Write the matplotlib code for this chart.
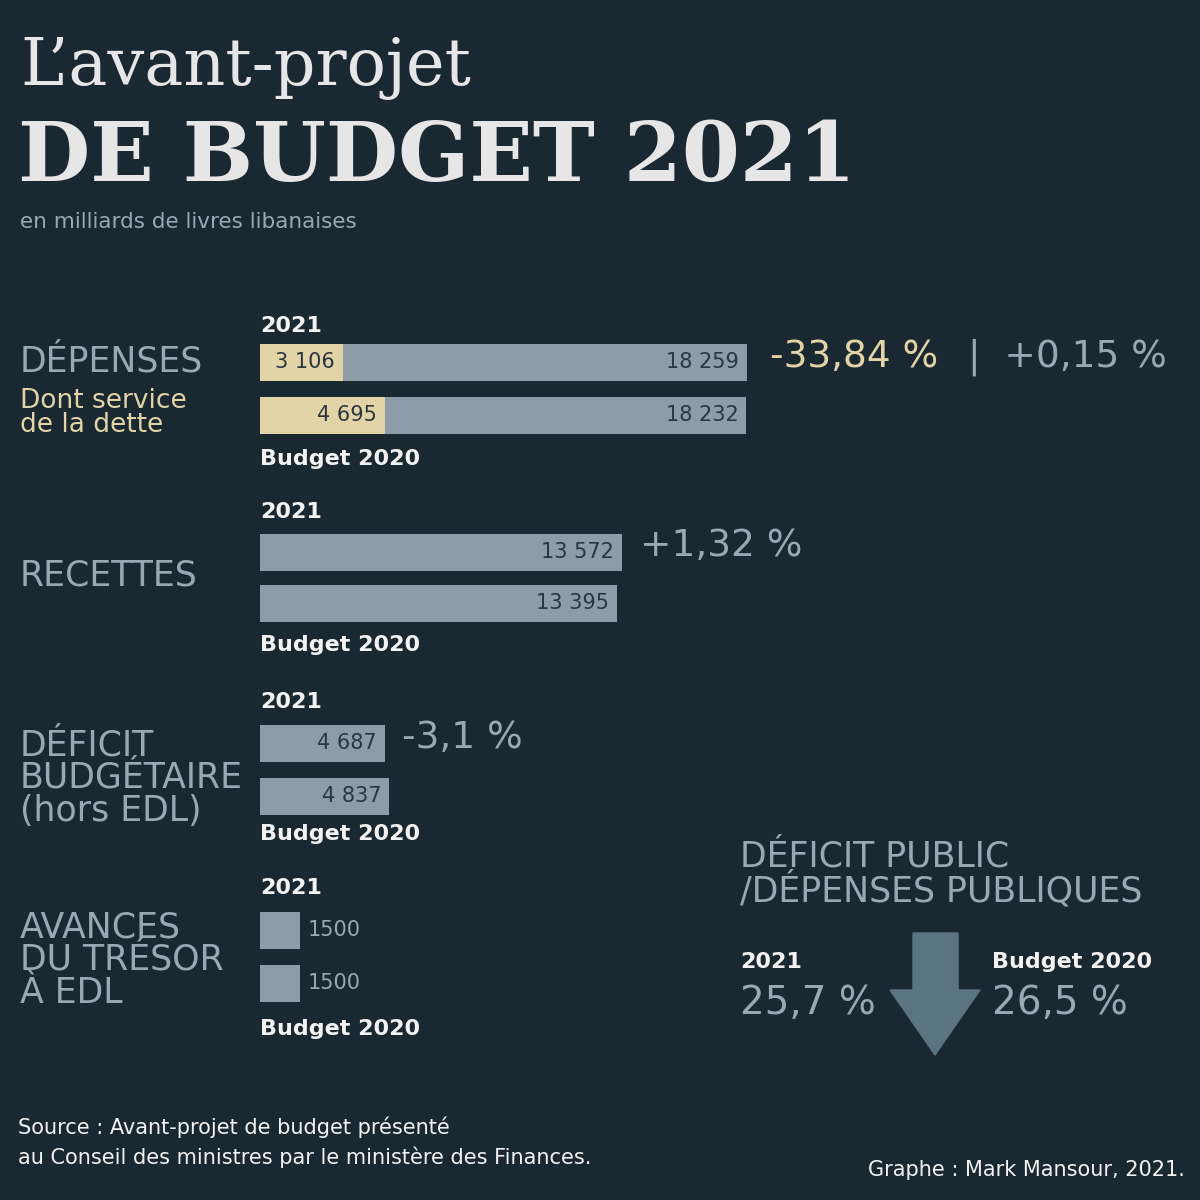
import matplotlib
matplotlib.use("Agg")
import matplotlib.pyplot as plt

BG = "#1a2832"
BAR = "#8d9ca8"
BEIGE = "#e2d4a6"
GREY = "#9aa8b3"
WHITE = "#f2f2f2"
TXTDARK = "#2a3640"

# data
groups = ["DÉPENSES", "RECETTES", "DÉFICIT\nBUDGÉTAIRE\n(hors EDL)", "AVANCES\nDU TRÉSOR\nÀ EDL"]
values_2021 = [18259, 13572, 4687, 1500]
values_2020 = [18232, 13395, 4837, 1500]
debt_2021 = 3106
debt_2020 = 4695
labels_2021 = ["18 259", "13 572", "4 687", "1500"]
labels_2020 = ["18 232", "13 395", "4 837", "1500"]
changes = ["-33,84 %", "+1,32 %", "-3,1 %", ""]
ratio_years = ["2021", "Budget 2020"]
ratio_values = ["25,7 %", "26,5 %"]

fig = plt.figure(figsize=(12, 12), dpi=100, facecolor=BG)
k = 18259 / 487.0
ax = fig.add_axes([0, 0, 1, 1])
ax.set_facecolor(BG)
ax.set_xlim(-260 * k, 940 * k)
ax.set_ylim(1200, 0)
ax.axis("off")

def T(x, y, s, **kw):
    ax.text((x - 260) * k, y, s, **kw)

# titles
T(20, 68, "L’avant-projet", fontsize=47, color="#e6e6e6", family="DejaVu Serif", va="center")
T(18, 158, "DE BUDGET 2021", fontsize=60, color="#e6e6e6", family="DejaVu Serif", weight="bold", va="center")
T(20, 222, "en milliards de livres libanaises", fontsize=15.5, color=GREY, va="center")

y21 = [362, 552, 743, 930]
y20 = [415, 603, 796, 983]
ytop = [326, 512, 702, 888]
ybot = [459, 645, 834, 1029]
h = 37

for i in range(4):
    ax.barh(y21[i], values_2021[i], height=h, left=0, color=BAR)
    ax.barh(y20[i], values_2020[i], height=h, left=0, color=BAR)
    T(260, ytop[i], "2021", fontsize=16, color=WHITE, va="center", weight="bold")
    T(260, ybot[i], "Budget 2020", fontsize=16, color=WHITE, va="center", weight="bold")
    if i < 3:
        ax.text(values_2021[i] - 8 * k, y21[i], labels_2021[i], fontsize=15, color=TXTDARK, ha="right", va="center")
        ax.text(values_2020[i] - 8 * k, y20[i], labels_2020[i], fontsize=15, color=TXTDARK, ha="right", va="center")
    else:
        ax.text(values_2021[i] + 8 * k, y21[i], labels_2021[i], fontsize=15, color=GREY, ha="left", va="center")
        ax.text(values_2020[i] + 8 * k, y20[i], labels_2020[i], fontsize=15, color=GREY, ha="left", va="center")

ax.barh(y21[0], debt_2021, height=h, color=BEIGE)
ax.barh(y20[0], debt_2020, height=h, color=BEIGE)
ax.text(debt_2021 - 8 * k, y21[0], "3 106", fontsize=15, color=TXTDARK, ha="right", va="center")
ax.text(debt_2020 - 8 * k, y20[0], "4 695", fontsize=15, color=TXTDARK, ha="right", va="center")

# group labels
T(20, 362, groups[0], fontsize=25, color=GREY, va="center")
T(20, 413, "Dont service\nde la dette", fontsize=19, color=BEIGE, va="center", linespacing=0.95)
T(20, 576, groups[1], fontsize=25, color=GREY, va="center")
T(20, 778, groups[2], fontsize=25, color=GREY, va="center", linespacing=0.95)
T(20, 960, groups[3], fontsize=25, color=GREY, va="center", linespacing=0.95)

# changes
T(770, 357, changes[0], fontsize=27, color=BEIGE, va="center")
T(968, 357, "|  +0,15 %", fontsize=27, color=GREY, va="center")
T(640, 546, changes[1], fontsize=27, color=GREY, va="center")
T(402, 738, changes[2], fontsize=27, color=GREY, va="center")

# ratio block
T(740, 874, "DÉFICIT PUBLIC\n/DÉPENSES PUBLIQUES", fontsize=25, color=GREY, va="center", linespacing=0.95)
T(740, 962, ratio_years[0], fontsize=16, color=WHITE, weight="bold", va="center")
T(992, 962, ratio_years[1], fontsize=16, color=WHITE, weight="bold", va="center")
T(740, 1003, ratio_values[0], fontsize=28, color=GREY, va="center")
T(992, 1003, ratio_values[1], fontsize=28, color=GREY, va="center")
arrow_x = [(913 - 260) * k, (958 - 260) * k, (958 - 260) * k, (980 - 260) * k, (935 - 260) * k, (890 - 260) * k, (913 - 260) * k]
arrow_y = [933, 933, 990, 990, 1055, 990, 990]
ax.fill(arrow_x, arrow_y, color="#5b7482")

T(18, 1142, "Source : Avant-projet de budget présenté\nau Conseil des ministres par le ministère des Finances.", fontsize=15, color=WHITE, va="center", linespacing=1.5)
ax.text((1185 - 260) * k, 1170, "Graphe : Mark Mansour, 2021.", fontsize=15, color=WHITE, va="center", ha="right")

fig.savefig("out.png", dpi=100, facecolor=BG)
